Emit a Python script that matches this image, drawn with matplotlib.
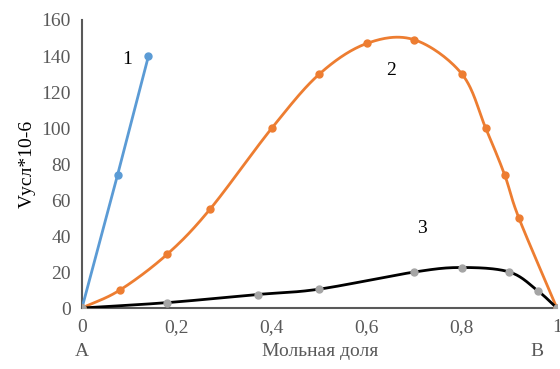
import numpy as np
import matplotlib
matplotlib.use("Agg")
import matplotlib.pyplot as plt

# данные
x1 = [0, 0.075, 0.14]
y1 = [0, 74, 140]

x2 = [0, 0.08, 0.18, 0.27, 0.4, 0.5, 0.6, 0.7, 0.8, 0.85, 0.89, 0.92, 1.0]
y2 = [0, 10, 30, 55, 100, 130, 147, 149, 130, 100, 74, 50, 0]

x3 = [0, 0.18, 0.37, 0.5, 0.7, 0.8, 0.9, 0.96, 1.0]
y3 = [0, 3, 7.5, 10.5, 20, 22.5, 20, 9.5, 0]

xticks = [0, 0.2, 0.4, 0.6, 0.8, 1.0]
xticklabels = ['0', '0,2', '0,4', '0,6', '0,8', '1']
yticks = [0, 20, 40, 60, 80, 100, 120, 140, 160]

plt.rcParams['font.family'] = ['Liberation Serif', 'DejaVu Serif']


def smooth(x, y, n=30):
    # сглаживание как в Excel (Catmull-Rom)
    x = np.asarray(x, float)
    y = np.asarray(y, float)
    px = np.concatenate([[2 * x[0] - x[1]], x, [2 * x[-1] - x[-2]]])
    py = np.concatenate([[2 * y[0] - y[1]], y, [2 * y[-1] - y[-2]]])
    xs, ys = [], []
    t = np.linspace(0, 1, n)
    for i in range(1, len(px) - 2):
        for p, out in ((px, xs), (py, ys)):
            p0, p1, p2, p3 = p[i - 1], p[i], p[i + 1], p[i + 2]
            m1 = (p2 - p0) / 6
            m2 = (p3 - p1) / 6
            c1 = p1 + m1
            c2 = p2 - m2
            out.extend((1 - t) ** 3 * p1 + 3 * (1 - t) ** 2 * t * c1
                       + 3 * (1 - t) * t ** 2 * c2 + t ** 3 * p2)
    return np.array(xs), np.array(ys)


fig = plt.figure(figsize=(5.6, 3.69), dpi=100)
ax = fig.add_axes([0.1464, 0.1653, 0.848, 0.7805])

ax.plot(x1, y1, color='#5B9BD5', lw=2, marker='o', ms=5, zorder=3)

sx, sy = smooth(x2, y2)
ax.plot(sx, sy, color='#ED7D31', lw=2, zorder=3)
ax.plot(x2, y2, 'o', color='#ED7D31', ms=5, zorder=4)

sx, sy = smooth(x3, y3)
ax.plot(sx, sy, color='black', lw=2, zorder=3)
ax.plot(x3, y3, 'o', color='#A5A5A5', ms=5, zorder=4)

ax.set_xlim(0, 1)
ax.set_ylim(0, 160)
ax.set_xticks(xticks)
ax.set_xticklabels(xticklabels)
ax.set_yticks(yticks)
ax.tick_params(length=0, labelsize=14, labelcolor='#595959', pad=8)
for s in ['top', 'right']:
    ax.spines[s].set_visible(False)
for s in ['left', 'bottom']:
    ax.spines[s].set_color('#595959')
    ax.spines[s].set_linewidth(1.5)
ax.set_ylabel('Vусл*10-6', fontsize=14, color='black', labelpad=4)

ax.text(0.095, 138, '1', fontsize=14, ha='center', va='center')
ax.text(0.65, 132, '2', fontsize=14, ha='center', va='center')
ax.text(0.715, 44, '3', fontsize=14, ha='center', va='center')

fig.text(82 / 560, 1 - 352 / 369, 'А', fontsize=14, color='#595959', ha='center', va='center')
fig.text(320 / 560, 1 - 352 / 369, 'Мольная доля', fontsize=14, color='#595959', ha='center', va='center')
fig.text(537 / 560, 1 - 352 / 369, 'В', fontsize=14, color='#595959', ha='center', va='center')

plt.savefig('out.png', dpi=100)
